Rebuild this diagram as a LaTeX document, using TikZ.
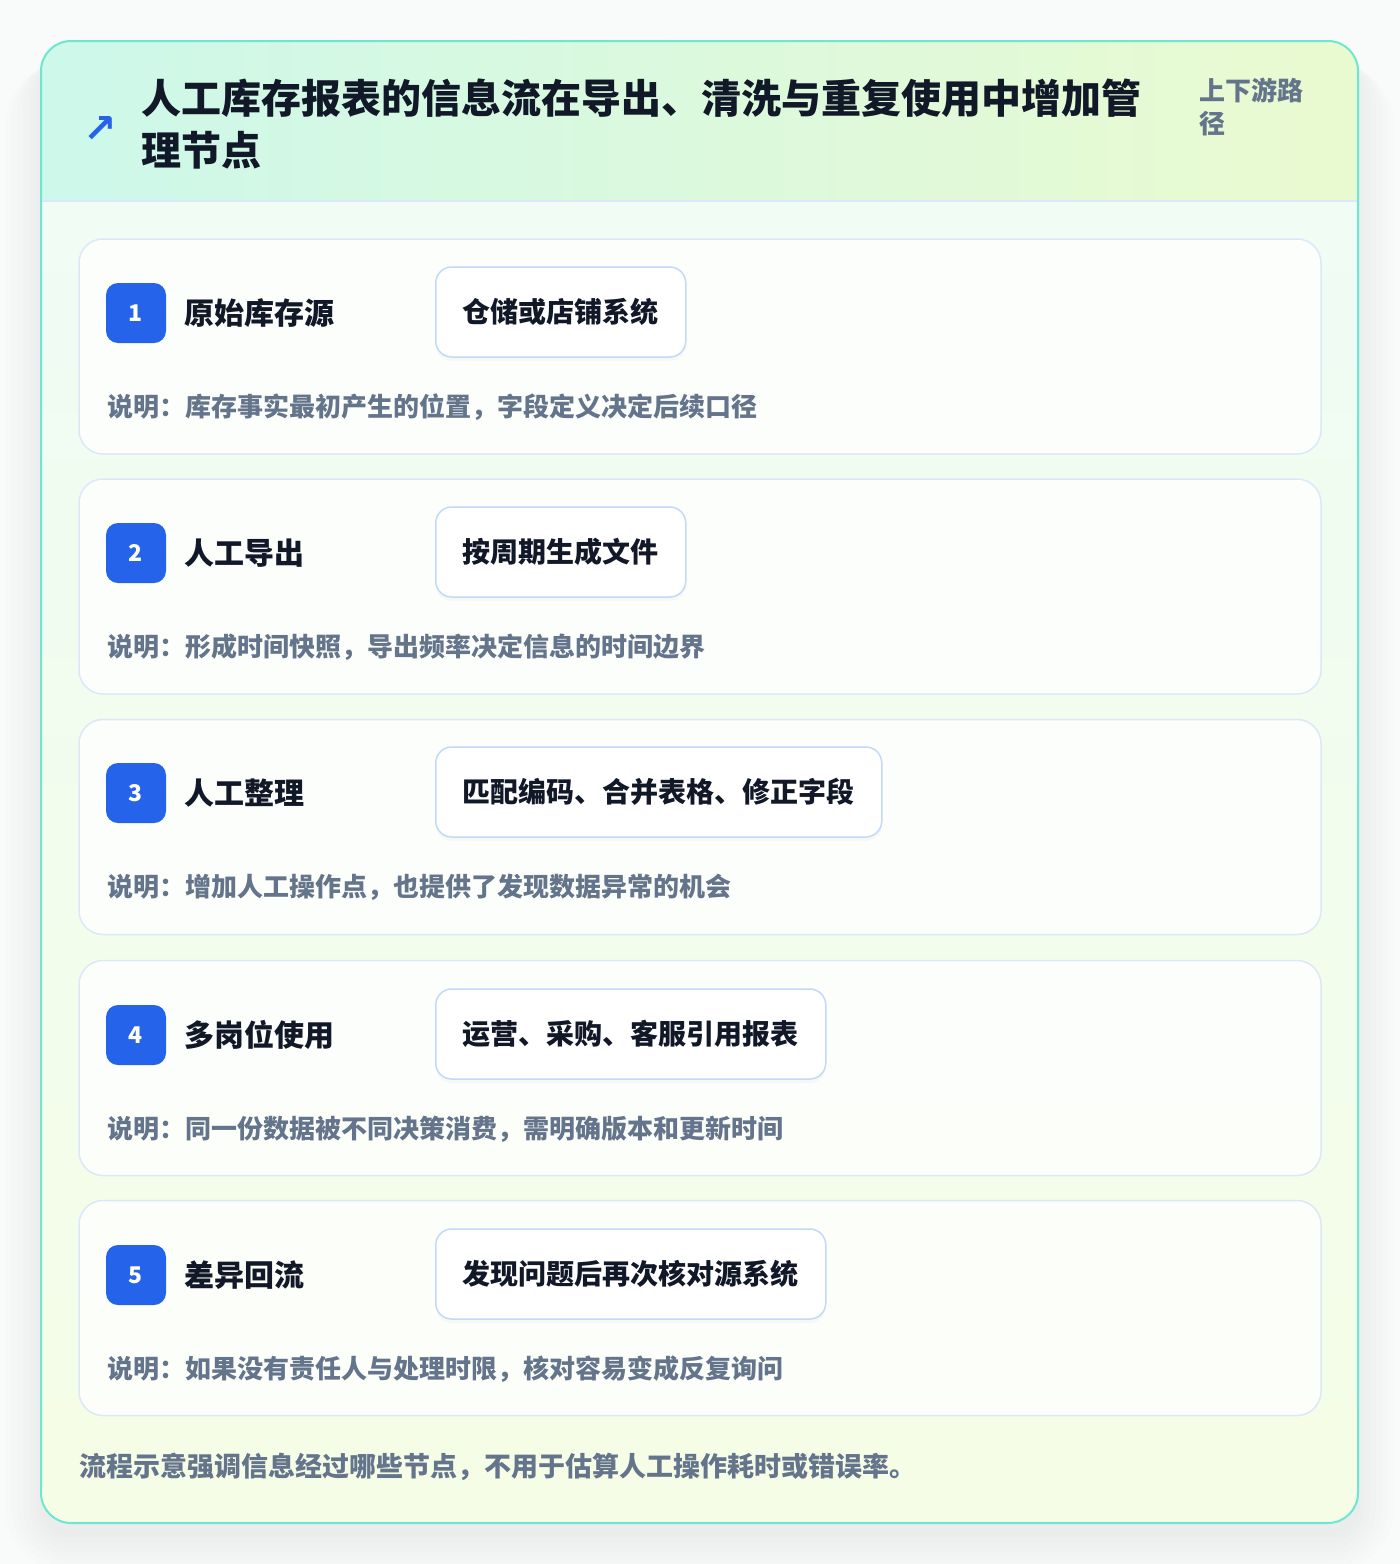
\documentclass[tikz,border=0pt]{standalone}
\usepackage{fontspec}
\setmainfont{Noto Sans CJK SC}
\newfontfamily\symfont{DejaVu Sans}
\usetikzlibrary{positioning, shadows}

\definecolor{frameteal}{HTML}{6EE7D2}
\definecolor{headleft}{HTML}{CDF8EA}
\definecolor{headright}{HTML}{EAFAD0}
\definecolor{bodytop}{HTML}{EFFCF6}
\definecolor{bodybottom}{HTML}{F5FDE6}
\definecolor{cardline}{HTML}{DCE8F7}
\definecolor{pillline}{HTML}{C3DAF7}
\definecolor{badgeblue}{HTML}{2563EB}
\definecolor{inkdark}{HTML}{111827}
\definecolor{inkgray}{HTML}{64748B}
\definecolor{pagebg}{HTML}{F9FAFA}

\begin{document}
\begin{tikzpicture}[
		x=1pt, y=-1pt,
		halo/.style={fill=black, opacity=0.009},
		card/.style={draw=cardline, line width=1.5pt, fill=white, fill opacity=0.8, rounded corners=24pt, minimum width=1242pt, minimum height=215pt, inner sep=0pt},
		badge/.style={fill=badgeblue, rounded corners=12pt, minimum size=60pt, inner sep=0pt, text=white, font=\bfseries\fontsize{23}{26}\selectfont},
		steptitle/.style={anchor=west, inner sep=0pt, text=inkdark, font=\bfseries\fontsize{30}{36}\selectfont},
		pill/.style={anchor=west, draw=pillline, line width=1.5pt, fill=white, rounded corners=16pt, minimum height=90pt, inner xsep=27pt, text=inkdark, font=\bfseries\fontsize{28}{34}\selectfont, drop shadow={shadow xshift=0pt, shadow yshift=-4pt, opacity=0.025, fill=black}},
		note/.style={anchor=west, inner sep=0pt, text=inkgray, font=\bfseries\fontsize{26}{32}\selectfont},
		node distance=18pt
		]
		
		\useasboundingbox (0,0) rectangle (1400,1564);
		\fill[pagebg] (0,0) rectangle (1400,1564);
		
		% Frame shadow
		\fill[halo, rounded corners=66pt] (5,61) rectangle (1394,1573);
		\fill[halo, rounded corners=60pt] (11,60) rectangle (1388,1567);
		\fill[halo, rounded corners=54pt] (17,58) rectangle (1382,1561);
		\fill[halo, rounded corners=48pt] (23,57) rectangle (1376,1555);
		\fill[halo, rounded corners=42pt] (29,56) rectangle (1370,1549);
		\fill[halo, rounded corners=36pt] (35,55) rectangle (1364,1543);
		\fill[halo, rounded corners=32pt] (39,54) rectangle (1360,1537);
		
		% Frame body and header
		\shade[top color=bodytop, bottom color=bodybottom, rounded corners=30pt] (41,41) rectangle (1358,1523);
		\begin{scope}
			\clip[rounded corners=30pt] (41,41) rectangle (1358,1523);
			\shade[left color=headleft, right color=headright] (41,41) rectangle (1358,201);
		\end{scope}
		\draw[cardline, line width=1.5pt] (41,201) -- (1358,201);
		\draw[frameteal, line width=2pt, rounded corners=30pt] (41,41) rectangle (1358,1523);
		
		% Header text
		\node[anchor=west, align=left, inner sep=0pt, text=inkdark, font=\bfseries\fontsize{40}{52}\selectfont] (title) at (141,124) {人工库存报表的信息流在导出、清洗与重复使用中增加管\\理节点};
		\node[inner sep=0pt, text=badgeblue, font=\symfont\bfseries\fontsize{40}{40}\selectfont, left=24pt of title, yshift=-5pt] (icon) {↗};
		\node[anchor=west, align=left, inner sep=0pt, text=inkgray, font=\bfseries\fontsize{26}{33}\selectfont] (route) at (1199,107) {上下游路\\径};
		
		% Step 1
		\node[card] (c1) at (700,346.5) {};
		\node[badge] (b1) at (136,313) {1};
		\node[steptitle, right=of b1] (t1) {原始库存源};
		\node[pill] (p1) at (435,312) {仓储或店铺系统};
		\node[note] (n1) at (107,407) {说明：库存事实最初产生的位置，字段定义决定后续口径};
		
		% Step 2
		\node[card] (c2) at (700,586.5) {};
		\node[badge] (b2) at (136,553) {2};
		\node[steptitle, right=of b2] (t2) {人工导出};
		\node[pill] (p2) at (435,552) {按周期生成文件};
		\node[note] (n2) at (107,647) {说明：形成时间快照，导出频率决定信息的时间边界};
		
		% Step 3
		\node[card] (c3) at (700,827) {};
		\node[badge] (b3) at (136,793) {3};
		\node[steptitle, right=of b3] (t3) {人工整理};
		\node[pill] (p3) at (435,792) {匹配编码、合并表格、修正字段};
		\node[note] (n3) at (107,887) {说明：增加人工操作点，也提供了发现数据异常的机会};
		
		% Step 4
		\node[card] (c4) at (700,1068) {};
		\node[badge] (b4) at (136,1035) {4};
		\node[steptitle, right=of b4] (t4) {多岗位使用};
		\node[pill] (p4) at (435,1034) {运营、采购、客服引用报表};
		\node[note] (n4) at (107,1129) {说明：同一份数据被不同决策消费，需明确版本和更新时间};
		
		% Step 5
		\node[card] (c5) at (700,1308) {};
		\node[badge] (b5) at (136,1275) {5};
		\node[steptitle, right=of b5] (t5) {差异回流};
		\node[pill] (p5) at (435,1274) {发现问题后再次核对源系统};
		\node[note] (n5) at (107,1369) {说明：如果没有责任人与处理时限，核对容易变成反复询问};
		
		% Footer
		\node[note, font=\bfseries\fontsize{27}{32}\selectfont] (foot) at (79,1467) {流程示意强调信息经过哪些节点，不用于估算人工操作耗时或错误率。};
		
	\end{tikzpicture}
\end{document}
